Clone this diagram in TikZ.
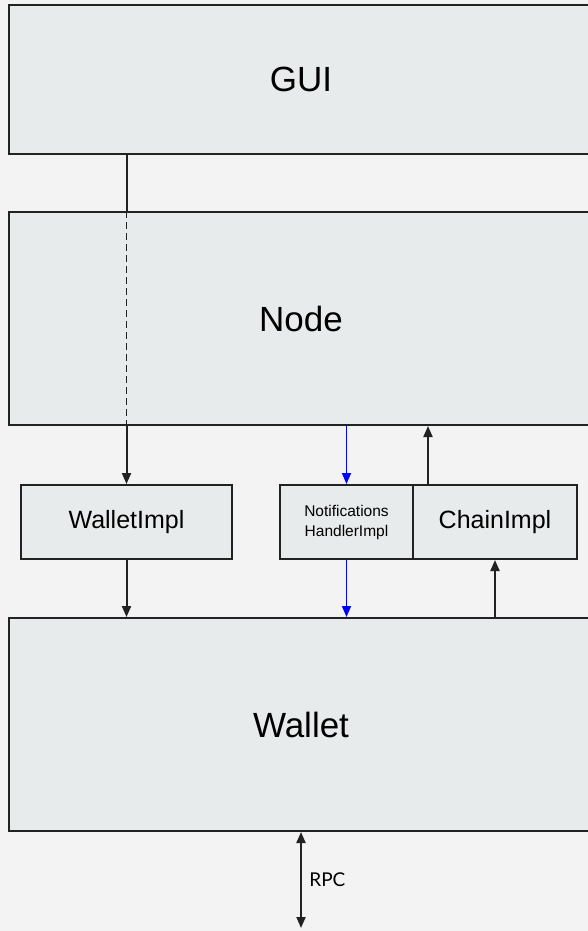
\documentclass[tikz,border=0pt]{standalone}
\usepackage{fontspec}
\setmainfont{Liberation Sans}
\newfontfamily\rpcfont{Lato}
\usetikzlibrary{arrows.meta,positioning}
\definecolor{pagebg}{HTML}{F3F3F3}
\definecolor{boxfill}{HTML}{E8EBEB}
\definecolor{boxline}{HTML}{222222}
\tikzset{
  layer/.style={
    shape = rectangle,
    draw = boxline,
    fill = boxfill,
    line width = 2pt,
    inner sep = 0pt,
    minimum width = 584pt,
    minimum height = 213pt,
    font = \fontsize{35}{40}\selectfont
  },
  impl/.style={
    shape = rectangle,
    draw = boxline,
    fill = boxfill,
    line width = 2pt,
    inner sep = 0pt,
    minimum height = 74pt,
    font = \fontsize{25}{30}\selectfont
  },
  flow/.style={
    draw = boxline,
    line width = 2pt,
    -{Triangle[length=11pt,width=9pt]}
  },
  notify/.style={
    flow,
    draw = blue,
    line width = 1.6pt,
    -{Triangle[length=11pt,width=9pt,fill=blue]}
  },
}
\begin{document}
\begin{tikzpicture}[x=1pt,y=-1pt]
\clip (0,0) rectangle (588,931);
\fill[pagebg] (0,0) rectangle (588,931);
% layers
\node[layer, minimum height=149pt] (gui) at (301,79.5) {GUI};
\node[layer] (node) at (301,318.5) {Node};
\node[layer] (wallet) at (301,724.5) {Wallet};
% interface implementations
\node[impl, minimum width=211pt] (walletimpl) at (126.5,522) {WalletImpl};
\node[impl, minimum width=133pt, font=\fontsize{15.5}{20}\selectfont, align=center]
  (handler) at (346.5,522) {Notifications\\HandlerImpl};
\node[impl, minimum width=164pt, right=-2pt of handler] (chainimpl) {ChainImpl};
% calls into the wallet
\draw[boxline, line width=2pt] (gui.south -| walletimpl) -- (node.north -| walletimpl);
\draw[boxline, line width=1.8pt, dash pattern=on 7pt off 4pt] (node.north -| walletimpl) -- (node.south -| walletimpl);
\draw[flow] (node.south -| walletimpl) -- (walletimpl.north);
\draw[flow] (walletimpl.south) -- (wallet.north -| walletimpl);
% notifications
\draw[notify] (node.south -| handler) -- (handler.north);
\draw[notify] (handler.south) -- (wallet.north -| handler);
% chain access
\draw[flow] (chainimpl.north -| 428,0) -- (node.south -| 428,0);
\draw[flow] (wallet.north -| chainimpl) -- (chainimpl.south);
% external interface
\coordinate (rpcend) at (301,928);
\draw[flow, {Triangle[length=11pt,width=9pt]}-{Triangle[length=11pt,width=9pt]}]
  (wallet.south) -- node[right=4pt, font=\rpcfont\fontsize{19}{22}\selectfont] (rpc) {RPC} (rpcend);
\end{tikzpicture}
\end{document}
